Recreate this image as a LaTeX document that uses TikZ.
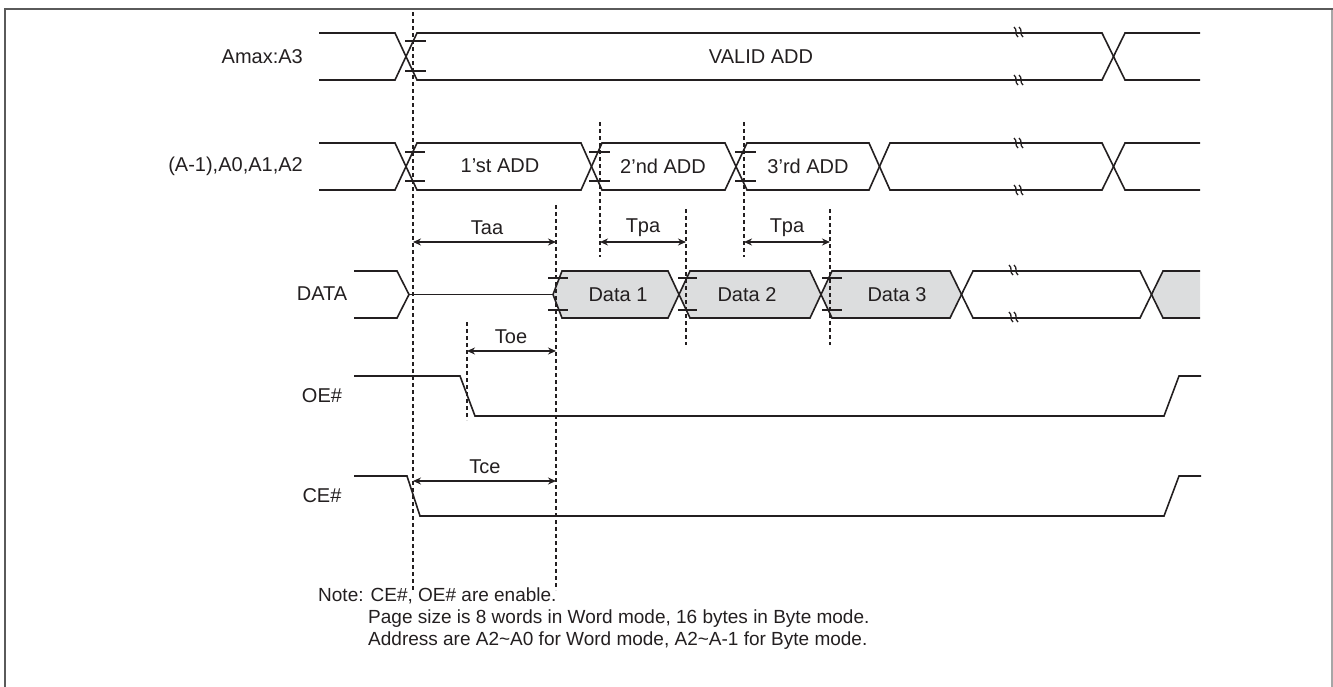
\documentclass[tikz,border=0pt]{standalone}
\usepackage{fontspec}
\setmainfont{Liberation Sans}
\usetikzlibrary{arrows.meta}
\definecolor{ln}{HTML}{231F20}
\definecolor{sh}{HTML}{DCDDDE}
\definecolor{frameA}{HTML}{5A5A5A}
\definecolor{frameB}{HTML}{A6A6A6}
\begin{document}
\begin{tikzpicture}[x=1pt,y=-1pt,
  sig/.style={draw=ln,line width=1.6pt,line join=miter},
  thin sig/.style={draw=ln,line width=1.1pt},
  tickmark/.style={draw=ln,line width=1.2pt},
  guide/.style={draw=ln,line width=1.6pt,dash pattern=on 4pt off 3pt},
  dim/.style={draw=ln,line width=1.3pt,{Stealth[length=8pt,width=7pt]}-{Stealth[length=8pt,width=7pt]}},
  brk/.style={draw=ln,line width=1.3pt},
  txt/.style={font=\fontsize{20}{24}\selectfont,text=ln,inner sep=0pt},
  lbl/.style={txt,anchor=east},
  note/.style={font=\fontsize{19}{22}\selectfont,text=ln,inner sep=0pt,anchor=west}]
\useasboundingbox (0,0) rectangle (1333,686);
% frame
\draw[frameB,line width=1.5pt] (1332,9) -- (1332,700);
\draw[frameA,line width=1.5pt] (5,700) -- (5,9) -- (1333,9);

% row labels
\node[lbl] (lA) at (303,57) {Amax:A3};
\node[lbl] (lB) at (303,166) {(A-1),A0,A1,A2};
\node[txt] (lC) at (322,294) {DATA};
\node[txt] (lD) at (322,396) {OE\#};
\node[txt] (lE) at (322,496) {CE\#};

% row 1 : Amax:A3
\draw[sig] (319,33) -- (395,33) -- (417,80) -- (1102,80) -- (1125,33) -- (1200,33);
\draw[sig] (319,80) -- (395,80) -- (417,33) -- (1102,33) -- (1125,80) -- (1200,80);
\node[txt] (vadd) at (761,57) {VALID ADD};
\draw[tickmark] (405,41) -- (426,41) (405,71) -- (426,71);

% row 2 : address
\draw[sig] (319,143) -- (395,143) -- (417,190) -- (581,190) -- (602,143) -- (725,143) -- (747,190) -- (869,190) -- (890,143) -- (1102,143) -- (1125,190) -- (1200,190);
\draw[sig] (319,190) -- (395,190) -- (417,143) -- (581,143) -- (602,190) -- (725,190) -- (747,143) -- (869,143) -- (890,190) -- (1102,190) -- (1125,143) -- (1200,143);
\node[txt] (a1) at (500,166) {1'st ADD};
\node[txt] (a2) at (663,166) {2'nd ADD};
\node[txt] (a3) at (808,166) {3'rd ADD};
\draw[tickmark] (405,152) -- (425,152) (405,181) -- (425,181);
\draw[tickmark] (589,152) -- (610,152) (589,181) -- (610,181);
\draw[tickmark] (735,152) -- (756,152) (735,181) -- (756,181);

% row 3 : DATA
\fill[sh] (553,294.5) -- (562,271) -- (668,271) -- (679,294.5) -- (668,318) -- (562,318) -- cycle;
\fill[sh] (679,294.5) -- (690,271) -- (810,271) -- (821,294.5) -- (810,318) -- (690,318) -- cycle;
\fill[sh] (821,294.5) -- (832,271) -- (950,271) -- (961.5,294.5) -- (950,318) -- (832,318) -- cycle;
\fill[sh] (1151.5,294.5) -- (1163,271) -- (1200,271) -- (1200,318) -- (1163,318) -- cycle;
\draw[sig] (354,271) -- (397,271) -- (409,294.5);
\draw[sig] (354,318) -- (397,318) -- (409,294.5);
\draw[thin sig] (409,294.5) -- (553,294.5);
\draw[sig] (553,294.5) -- (562,271) -- (668,271) -- (690,318) -- (810,318) -- (832,271) -- (950,271) -- (973,318) -- (1140,318) -- (1163,271) -- (1200,271);
\draw[sig] (553,294.5) -- (562,318) -- (668,318) -- (690,271) -- (810,271) -- (832,318) -- (950,318) -- (973,271) -- (1140,271) -- (1163,318) -- (1200,318);
\node[txt] (d1) at (618,295) {Data 1};
\node[txt] (d2) at (747,295) {Data 2};
\node[txt] (d3) at (897,295) {Data 3};
\draw[tickmark] (548,278) -- (568,278) (548,310) -- (568,310);
\draw[tickmark] (678,278) -- (697,278) (678,310) -- (697,310);
\draw[tickmark] (822,278) -- (842,278) (822,310) -- (842,310);

% break marks
\foreach \bx/\by in {1016/32,1016/80,1016/143,1016/190,1011/270,1011/317}{
  \draw[brk] (\bx-2,\by-5) .. controls (\bx+2,\by-2) and (\bx-2,\by+2) .. (\bx+2,\by+5);
  \draw[brk] (\bx+3,\by-5) .. controls (\bx+7,\by-2) and (\bx+3,\by+2) .. (\bx+7,\by+5);
}

% row 4 : OE#
\draw[sig] (354,376) -- (460,376) -- (475,416) -- (1164,416) -- (1179,376) -- (1201,376);
% row 5 : CE#
\draw[sig] (354,476) -- (407,476) -- (420,516) -- (1164,516) -- (1179,476) -- (1201,476);

% guide lines
\coordinate (g0t) at (413,12);  \coordinate (g0b) at (413,590);
\coordinate (g1t) at (556,205); \coordinate (g1b) at (556,590);
\coordinate (g2t) at (600,122); \coordinate (g2b) at (600,257);
\coordinate (g3t) at (686,209); \coordinate (g3b) at (686,345);
\coordinate (g4t) at (744,122); \coordinate (g4b) at (744,257);
\coordinate (g5t) at (830,209); \coordinate (g5b) at (830,345);
\coordinate (g6t) at (467,322); \coordinate (g6b) at (467,420);
\foreach \g in {0,...,6}{\draw[guide] (g\g t) -- (g\g b);}

% dimension arrows
\coordinate (taaL) at (413,242); \coordinate (taaR) at (556,242);
\coordinate (tpaL) at (600,242); \coordinate (tpaR) at (686,242);
\coordinate (tpbL) at (744,242); \coordinate (tpbR) at (830,242);
\coordinate (toeL) at (467,351); \coordinate (toeR) at (556,351);
\coordinate (tceL) at (413,481); \coordinate (tceR) at (556,481);
\draw[dim] (taaL) -- (taaR);
\draw[dim] (tpaL) -- (tpaR);
\draw[dim] (tpbL) -- (tpbR);
\draw[dim] (toeL) -- (toeR);
\draw[dim] (tceL) -- (tceR);
\node[txt] (taa) at (487,228) {Taa};
\node[txt] (tpa) at (643,228) {Tpa};
\node[txt] (tpb) at (787,228) {Tpa};
\node[txt] (toe) at (511,337) {Toe};
\node[txt] (tce) at (485,467) {Tce};

% notes
\node[note] (n1) at (318,596) {Note: CE\#, OE\# are enable.};
\node[note] (n2) at (368,619) {Page size is 8 words in Word mode, 16 bytes in Byte mode.};
\node[note] (n3) at (368,641) {Address are A2\textasciitilde A0 for Word mode, A2\textasciitilde A-1 for Byte mode.};
\end{tikzpicture}
\end{document}
